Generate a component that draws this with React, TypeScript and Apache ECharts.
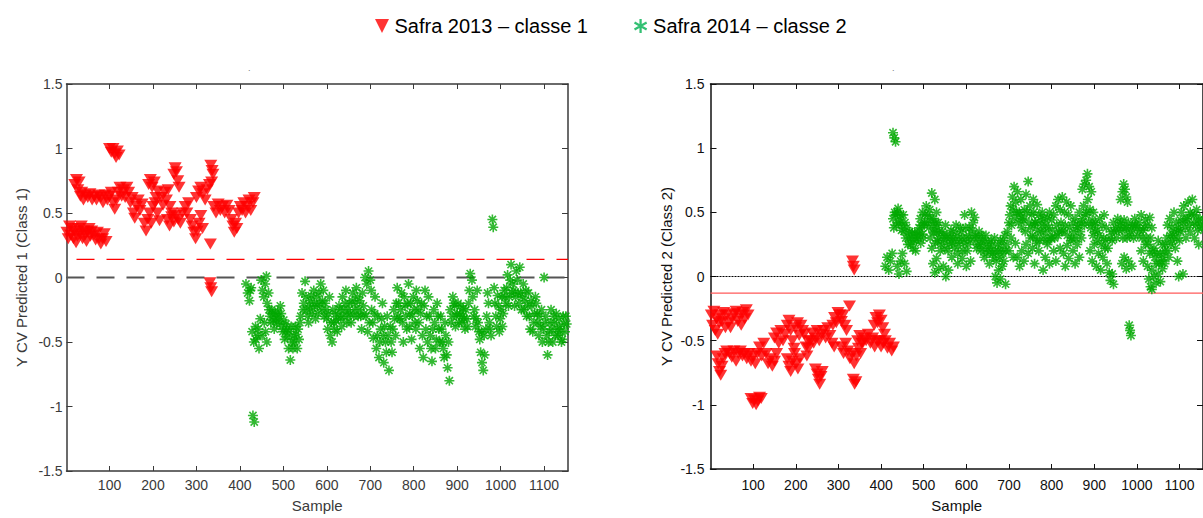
import React, { useEffect, useRef } from "react";
import * as echarts from "echarts";

// ---------- data ----------
const legendNames = ["Safra 2013 – classe 1", "Safra 2014 – classe 2"];
const xTicks = [100, 200, 300, 400, 500, 600, 700, 800, 900, 1000, 1100];
const leftYName = "Y CV Predicted 1 (Class 1)";
const rightYName = "Y CV Predicted 2 (Class 2)";
const xName = "Sample";
const leftXMin = 1;
const rightXMin = 0;
const xMax = 1155;
const leftThreshold = 0.14;
const rightThreshold = -0.13;

// left panel, class 1 (2013)
const leftClass1: number[][] = [
  [2,0.35],[5,0.3],[8,0.4],[11,0.33],[14,0.38],[17,0.3],[20,0.36],[23,0.27],[26,0.32],[29,0.38],[32,0.34],[35,0.4],[38,0.3],[41,0.36],[44,0.33],[47,0.28],[50,0.35],[53,0.38],[56,0.32],[59,0.36],[64,0.33],[68,0.29],[72,0.35],[76,0.3],[80,0.26],[84,0.3],[88,0.34],[92,0.28],
  [20,0.72],[24,0.76],[27,0.68],[30,0.74],[33,0.63],[36,0.66],[40,0.6],[44,0.64],
  [50,0.62],[55,0.65],[60,0.6],[65,0.63],[70,0.6],[75,0.64],[80,0.62],[85,0.58],[90,0.64],[95,0.6],[100,0.63],[104,0.66],
  [100,1.0],[104,0.97],[108,1.0],[112,0.96],[115,0.93],[118,0.98],[122,0.95],
  [108,0.58],[112,0.53],[116,0.6],[120,0.66],[124,0.7],[128,0.63],[132,0.68],[136,0.62],[140,0.7],[144,0.66],[148,0.58],[152,0.62],
  [155,0.5],[158,0.46],[162,0.55],[166,0.6],[170,0.52],[175,0.57],
  [180,0.42],[184,0.36],[188,0.45],[192,0.5],[196,0.42],[200,0.55],
  [190,0.72],[194,0.76],[198,0.7],[203,0.74],[207,0.62],[211,0.67],
  [205,0.58],[210,0.5],[215,0.44],[219,0.62],[223,0.56],[227,0.66],[231,0.6],[235,0.68],[239,0.55],[243,0.5],
  [233,0.45],[238,0.4],[243,0.47],[248,0.43],[253,0.48],[258,0.45],[263,0.42],[268,0.5],
  [248,0.8],[251,0.85],[254,0.82],[257,0.75],[260,0.7],
  [274,0.55],[278,0.5],[282,0.58],[286,0.45],[290,0.4],[294,0.35],[298,0.3],[302,0.36],[306,0.42],[310,0.48],[314,0.38],
  [300,0.62],[305,0.67],[310,0.7],[315,0.65],[320,0.6],[325,0.68],[330,0.72],[335,0.74],
  [333,0.87],[336,0.83],[338,0.8],
  [332,0.26],[331,-0.04],[333,-0.08],[335,-0.11],
  [340,0.55],[345,0.5],[350,0.57],[355,0.52],[360,0.55],[365,0.5],[370,0.56],[375,0.52],[380,0.45],[384,0.4],[387,0.35],[390,0.42],[393,0.38],[397,0.5],[401,0.55],[405,0.52],[409,0.58],[413,0.5],[417,0.55],[421,0.6],[425,0.52],[430,0.58],[433,0.62],
];

// left panel, class 2 (2014)
const leftClass2: number[][] = [
  [414,-0.05],[418,-0.12],[422,-0.18],[426,-0.08],[430,-1.07],[433,-1.12],[428,-0.42],[432,-0.5],[436,-0.38],[440,-0.45],[444,-0.55],[447,-0.32],
  [449,-0.02],[452,-0.1],[455,-0.15],[458,-0.05],[461,0.01],[463,-0.2],[466,-0.12],[459,-0.42],[462,-0.5],
  [469,-0.3],[473,-0.25],[477,-0.33],[481,-0.28],[485,-0.36],[489,-0.3],[493,-0.22],[497,-0.38],[501,-0.33],[505,-0.42],
  [503,-0.48],[508,-0.4],[512,-0.55],[516,-0.64],[520,-0.5],[524,-0.45],[528,-0.38],[532,-0.55],[536,-0.48],
  [540,-0.3],[543,-0.12],[547,-0.2],[550,-0.03],[554,-0.25],[558,-0.35],[562,-0.18],[566,-0.28],[570,-0.1],[574,-0.32],
  [578,-0.22],[582,-0.12],[586,-0.05],[590,-0.18],[594,-0.3],[598,-0.25],[602,-0.4],[606,-0.15],
  [608,-0.45],[612,-0.5],[616,-0.35],[620,-0.28],[624,-0.42],[628,-0.22],[632,-0.32],[636,-0.15],[640,-0.25],[644,-0.1],[648,-0.3],
  [652,-0.2],[656,-0.35],[660,-0.12],[664,-0.25],[668,-0.08],[672,-0.3],[676,-0.18],[680,-0.4],[684,-0.22],
  [688,0.0],[692,-0.05],[696,0.05],[700,-0.02],[690,-0.3],[694,-0.42],[698,-0.35],[703,-0.25],[707,-0.47],[711,-0.15],
  [714,-0.55],[717,-0.3],[720,-0.62],[724,-0.4],[728,-0.2],[731,-0.66],[735,-0.5],[739,-0.3],[743,-0.72],[746,-0.38],[750,-0.58],[754,-0.25],[758,-0.45],
  [762,-0.08],[765,-0.2],[768,-0.32],[772,-0.12],[776,-0.5],[780,-0.22],[784,-0.4],[788,-0.05],[791,-0.28],[795,-0.48],[799,-0.15],[803,-0.35],[806,-0.1],[810,-0.25],[814,-0.55],[818,-0.2],[822,-0.62],[826,-0.1],[830,-0.3],[834,-0.15],
  [838,-0.45],[842,-0.65],[846,-0.25],[850,-0.55],[854,-0.2],[858,-0.4],[862,-0.3],[866,-0.5],[870,-0.62],[874,-0.45],[878,-0.7],[882,-0.8],[886,-0.35],[890,-0.15],[894,-0.22],[898,-0.3],
  [902,-0.2],[906,-0.28],[910,-0.35],[914,-0.24],[918,-0.4],[922,-0.32],[926,-0.2],[930,0.03],[934,-0.02],[938,-0.3],[942,-0.38],[946,-0.1],[950,-0.42],
  [954,-0.58],[957,-0.66],[960,-0.72],[963,-0.6],[966,-0.4],[970,-0.12],[974,-0.35],[978,-0.45],[981,0.45],[983,0.39],[985,-0.08],[989,-0.3],[993,-0.14],[997,-0.42],[1001,-0.25],[1004,-0.38],
  [1008,-0.1],[1012,-0.2],[1016,0.02],[1020,-0.15],[1024,0.1],[1028,-0.05],[1032,-0.22],[1036,0.05],[1040,-0.12],[1044,0.08],[1048,-0.25],[1052,-0.05],[1056,-0.18],
  [1060,-0.3],[1064,-0.12],[1068,-0.4],[1072,-0.22],[1076,-0.35],[1080,-0.15],[1084,-0.28],[1088,-0.45],[1092,-0.38],[1096,-0.5],[1100,0.0],
  [1104,-0.3],[1108,-0.6],[1112,-0.42],[1116,-0.25],[1120,-0.5],[1124,-0.35],[1128,-0.28],[1132,-0.45],[1136,-0.38],[1140,-0.5],[1144,-0.3],[1148,-0.42],[1152,-0.36],
  [424,-0.1],[437,-0.48],[442,-0.4],[451,-0.45],[456,-0.35],[467,-0.25],[471,-0.35],[475,-0.28],[479,-0.4],[483,-0.32],[487,-0.26],[491,-0.34],[495,-0.28],[499,-0.42],[506,-0.36],[510,-0.46],[514,-0.42],[518,-0.38],[522,-0.55],[526,-0.5],[530,-0.44],[534,-0.4],[538,-0.35],[545,-0.25],[552,-0.15],[556,-0.3],[560,-0.22],[564,-0.14],[568,-0.24],[572,-0.2],[576,-0.15],[580,-0.28],[584,-0.2],[588,-0.25],[592,-0.1],[596,-0.2],[600,-0.32],[604,-0.28],[610,-0.35],[614,-0.25],[618,-0.4],[622,-0.33],[626,-0.3],[630,-0.25],[634,-0.38],[638,-0.3],[642,-0.2],[646,-0.35],[650,-0.25],[654,-0.28],[658,-0.18],[662,-0.3],[666,-0.2],[670,-0.15],[674,-0.25],[678,-0.3],[682,-0.12],[686,-0.28],
  [702,-0.1],[706,-0.35],[710,-0.28],[716,-0.45],[722,-0.5],[726,-0.32],[730,-0.45],[733,-0.38],[737,-0.58],[741,-0.45],[748,-0.5],[752,-0.4],[756,-0.32],[760,-0.2],[764,-0.3],[770,-0.25],[774,-0.35],[778,-0.15],[782,-0.3],[786,-0.2],[790,-0.38],[793,-0.2],[797,-0.3],[801,-0.25],[805,-0.4],[808,-0.18],[812,-0.35],[816,-0.28],[820,-0.45],[824,-0.22],[828,-0.4],[832,-0.5],[836,-0.3],[840,-0.55],[844,-0.4],[848,-0.35],[852,-0.48],[856,-0.3],[860,-0.5],[864,-0.4],[868,-0.55],[872,-0.35],[876,-0.6],[880,-0.5],[884,-0.25],[888,-0.3],[892,-0.2],[896,-0.38],
  [900,-0.28],[904,-0.35],[908,-0.22],[912,-0.3],[916,-0.32],[920,-0.25],[924,-0.38],[928,-0.1],[936,-0.15],[940,-0.25],[944,-0.32],[948,-0.35],[952,-0.48],[956,-0.42],[962,-0.45],[968,-0.3],[972,-0.2],[976,-0.4],[987,-0.2],[991,-0.38],[995,-0.22],[999,-0.32],[1003,-0.15],[1006,-0.28],[1010,-0.15],[1014,-0.08],[1018,-0.22],[1022,-0.02],[1026,-0.12],[1030,-0.1],[1034,-0.15],[1038,-0.02],[1042,-0.2],[1046,-0.12],[1050,-0.15],[1054,-0.25],[1058,-0.1],[1062,-0.22],[1066,-0.3],[1070,-0.18],[1074,-0.42],[1078,-0.28],[1082,-0.2],[1086,-0.35],[1090,-0.3],[1094,-0.25],[1098,-0.4],[1102,-0.35],[1106,-0.45],[1110,-0.5],[1114,-0.35],[1118,-0.4],[1122,-0.3],[1126,-0.45],[1130,-0.4],[1134,-0.32],[1138,-0.42],[1142,-0.48],[1146,-0.36],[1150,-0.3],
];

// right panel, class 1 (2013)
const rightClass1: number[][] = [
  [2,-0.3],[5,-0.38],[8,-0.27],[11,-0.42],[14,-0.33],[17,-0.45],[20,-0.36],[23,-0.3],
  [27,-0.35],[31,-0.28],[35,-0.4],[39,-0.3],[43,-0.36],[47,-0.4],[51,-0.33],[55,-0.29],
  [60,-0.27],[64,-0.35],[68,-0.3],[72,-0.38],[76,-0.28],[80,-0.33],[84,-0.26],[88,-0.3],
  [15,-0.62],[18,-0.68],[21,-0.74],[24,-0.77],[27,-0.7],[30,-0.64],[34,-0.6],[38,-0.58],
  [45,-0.6],[50,-0.63],[55,-0.58],[60,-0.66],[65,-0.6],[70,-0.58],[75,-0.62],[80,-0.6],[85,-0.64],[90,-0.6],[95,-0.66],
  [95,-0.95],[99,-0.99],[103,-0.96],[107,-1.0],[111,-0.97],[115,-0.94],[119,-0.95],
  [100,-0.62],[105,-0.68],[110,-0.6],[115,-0.55],[120,-0.62],[125,-0.52],[130,-0.6],[135,-0.68],[140,-0.64],[145,-0.7],[150,-0.66],[155,-0.6],
  [150,-0.48],[155,-0.44],[160,-0.52],[165,-0.42],[170,-0.5],[175,-0.45],[180,-0.38],[184,-0.34],[188,-0.42],[192,-0.5],[196,-0.56],
  [180,-0.64],[184,-0.7],[188,-0.74],[192,-0.66],[197,-0.6],[201,-0.68],[205,-0.72],[210,-0.64],
  [200,-0.4],[204,-0.36],[208,-0.46],[212,-0.38],[216,-0.42],[220,-0.45],[224,-0.55],[228,-0.5],
  [226,-0.62],[230,-0.56],[234,-0.5],[238,-0.44],[242,-0.52],[246,-0.48],[250,-0.42],
  [246,-0.72],[250,-0.76],[253,-0.8],[256,-0.84],[259,-0.78],[262,-0.74],
  [255,-0.5],[260,-0.45],[265,-0.42],[270,-0.48],[275,-0.4],[280,-0.46],[285,-0.52],[290,-0.55],
  [287,-0.38],[291,-0.32],[295,-0.36],[299,-0.28],[303,-0.3],[307,-0.35],[311,-0.3],[315,-0.38],[319,-0.42],
  [307,-0.55],[312,-0.6],[317,-0.52],[322,-0.58],[327,-0.64],[332,-0.6],[337,-0.68],[342,-0.62],[347,-0.56],[352,-0.6],[357,-0.52],
  [326,-0.23],[333,0.12],[335,0.08],[337,0.05],
  [335,-0.8],[338,-0.84],[341,-0.82],
  [345,-0.5],[350,-0.46],[355,-0.52],[360,-0.48],[365,-0.5],[370,-0.45],[375,-0.52],[380,-0.48],[385,-0.55],[390,-0.5],
  [384,-0.38],[388,-0.32],[392,-0.36],[396,-0.3],[400,-0.34],[404,-0.4],[408,-0.45],
  [395,-0.5],[400,-0.55],[405,-0.52],[410,-0.5],[415,-0.56],[420,-0.52],[425,-0.58],[429,-0.55],
];

// right panel, class 2 (2014)
const rightClass2: number[][] = [
  [410,0.08],[414,0.15],[418,0.05],[422,0.12],[426,0.18],
  [428,1.12],[431,1.08],[434,1.05],
  [428,0.45],[432,0.5],[436,0.4],[440,0.53],[444,0.44],[448,0.36],[452,0.48],[456,0.42],[460,0.38],
  [438,0.08],[442,0.02],[446,0.12],[450,0.18],[455,0.1],[460,0.04],
  [465,0.3],[469,0.25],[473,0.34],[477,0.28],[481,0.2],[485,0.32],[489,0.38],[493,0.26],[497,0.33],[501,0.4],
  [492,0.45],[497,0.5],[502,0.42],[506,0.55],[510,0.48],[514,0.52],[519,0.65],[522,0.45],[526,0.6],[530,0.5],[534,0.42],
  [515,0.3],[519,0.22],[523,0.34],[527,0.26],[531,0.38],[535,0.3],[539,0.2],[543,0.35],[547,0.28],[551,0.4],[555,0.32],[560,0.25],[564,0.36],
  [522,0.1],[526,0.03],[530,0.14],[535,0.06],[546,0.08],[552,0.0],[558,0.05],[566,0.15],
  [568,0.3],[572,0.22],[576,0.4],[580,0.18],[584,0.28],[588,0.35],[592,0.2],[596,0.48],[600,0.3],[604,0.25],[608,0.38],[612,0.5],[616,0.42],[619,0.46],
  [580,0.1],[590,0.14],[600,0.08],[610,0.12],
  [622,0.32],[626,0.25],[630,0.35],[634,0.2],[638,0.28],[642,0.15],[646,0.32],[650,0.22],[654,0.1],[658,0.28],[662,0.18],[666,0.3],[670,0.12],
  [668,0.0],[672,-0.05],[676,0.05],[680,-0.02],[684,0.08],[688,0.12],[692,-0.06],
  [675,0.2],[680,0.28],[685,0.18],[690,0.32],[695,0.25],[700,0.2],[705,0.3],[710,0.15],[715,0.26],
  [700,0.42],[704,0.55],[708,0.62],[712,0.7],[716,0.58],[720,0.66],[724,0.5],[728,0.6],[732,0.45],[736,0.52],[740,0.64],[745,0.74],[749,0.55],[753,0.48],[757,0.6],[761,0.42],
  [720,0.15],[725,0.08],[730,0.2],[735,0.12],[740,0.25],[745,0.18],[750,0.3],[755,0.22],[760,0.1],[765,0.26],[770,0.2],[775,0.35],
  [758,0.5],[762,0.42],[766,0.56],[770,0.48],[774,0.44],[778,0.5],[782,0.45],[786,0.4],[790,0.46],[795,0.5],[800,0.44],[805,0.48],
  [780,0.05],[785,0.15],[790,0.25],[795,0.1],[800,0.3],[805,0.2],[810,0.12],[815,0.32],[820,0.22],[824,0.35],
  [810,0.55],[815,0.6],[820,0.52],[825,0.62],[830,0.5],[835,0.58],[840,0.48],[845,0.55],[850,0.42],
  [828,0.18],[832,0.08],[836,0.24],[840,0.14],[845,0.28],[850,0.2],[855,0.1],[860,0.25],[865,0.15],[870,0.3],
  [855,0.45],[860,0.38],[865,0.5],[870,0.42],[875,0.55],[880,0.48],[885,0.6],[890,0.52],[895,0.44],[900,0.4],
  [872,0.68],[877,0.72],[881,0.75],[884,0.8],[888,0.7],[893,0.66],
  [898,0.5],[903,0.42],[908,0.36],[913,0.45],[918,0.4],[923,0.48],[928,0.38],
  [890,0.2],[895,0.12],[900,0.25],[905,0.08],[910,0.18],[915,0.05],[920,0.15],[925,0.22],[930,0.1],[935,0.03],
  [938,-0.03],[942,0.02],[945,-0.06],
  [940,0.35],[945,0.42],[950,0.38],[955,0.45],[960,0.4],[965,0.36],[970,0.44],[975,0.38],[980,0.42],[985,0.35],[990,0.4],
  [962,0.6],[966,0.66],[969,0.72],[972,0.68],[975,0.62],[978,0.58],
  [965,0.1],[970,0.15],[975,0.06],[980,0.12],[988,0.08],
  [982,-0.38],[984,-0.42],[986,-0.46],
  [995,0.45],[1000,0.38],[1005,0.42],[1010,0.48],[1015,0.36],[1020,0.44],[1025,0.4],[1030,0.46],[1035,0.38],
  [1010,0.2],[1015,0.12],[1020,0.25],[1025,0.08],[1030,0.18],[1035,0.05],[1040,0.22],[1045,0.1],[1050,0.28],
  [1028,-0.02],[1032,-0.08],[1035,-0.1],[1040,0.0],[1045,-0.05],[1050,0.02],[1055,-0.04],[1060,0.06],[1065,0.1],
  [1055,0.18],[1060,0.25],[1065,0.2],[1070,0.3],[1075,0.15],[1080,0.25],[1085,0.32],[1090,0.22],[1095,0.12],[1100,0.28],
  [1072,0.4],[1077,0.45],[1082,0.38],[1087,0.5],[1092,0.42],[1097,0.36],[1102,0.44],
  [1105,0.5],[1110,0.55],[1115,0.45],[1120,0.58],[1125,0.5],[1130,0.6],[1135,0.48],[1140,0.52],[1145,0.44],[1150,0.4],
  [1098,0.0],[1108,0.02],[1115,0.3],[1125,0.35],[1135,0.3],[1145,0.25],
  [430,0.38],[434,0.48],[438,0.5],[442,0.42],[446,0.48],[450,0.4],[454,0.35],[458,0.3],[463,0.25],[467,0.35],[471,0.3],[475,0.22],[479,0.34],[483,0.28],[487,0.3],[491,0.35],[495,0.4],[499,0.3],[503,0.48],[508,0.42],[512,0.38],[517,0.45],[521,0.4],[525,0.35],[529,0.42],[533,0.28],[537,0.35],[541,0.25],[545,0.32],[549,0.22],[553,0.3],[557,0.2],[562,0.3],[566,0.26],[570,0.35],[574,0.28],[578,0.32],[582,0.24],[586,0.38],[590,0.3],[594,0.26],[598,0.38],[602,0.2],[606,0.32],[610,0.28],[614,0.36],[618,0.3],
  [624,0.22],[628,0.3],[632,0.25],[636,0.32],[640,0.22],[644,0.28],[648,0.18],[652,0.26],[656,0.2],[660,0.24],[664,0.15],[668,0.2],[674,0.25],[678,0.15],[682,0.22],[686,0.28],[692,0.2],[696,0.35],[702,0.48],[706,0.4],[710,0.52],[714,0.45],[718,0.5],[722,0.42],[726,0.48],[730,0.38],[734,0.44],[738,0.35],[742,0.5],[747,0.42],[751,0.38],[755,0.32],[759,0.4],[763,0.3],[767,0.36],[772,0.28],[777,0.4],[781,0.3],[785,0.35],[789,0.28],[793,0.38],[797,0.3],[802,0.36],[807,0.3],[812,0.4],[817,0.35],[822,0.42],[827,0.36],[832,0.4],[837,0.32],[842,0.38],[847,0.3],[852,0.35],[857,0.3],[862,0.4],[867,0.35],[872,0.45],[877,0.4],[882,0.5],[887,0.42],[892,0.38],[897,0.32],
  [902,0.35],[907,0.28],[912,0.32],[917,0.25],[922,0.3],[927,0.28],[932,0.22],[937,0.3],[942,0.28],[947,0.35],[952,0.3],[957,0.36],[962,0.42],[967,0.3],[972,0.38],[977,0.3],[983,0.32],[988,0.38],[992,0.3],[997,0.4],[1002,0.32],[1007,0.36],[1012,0.3],[1017,0.38],[1022,0.3],[1027,0.25],[1032,0.3],[1037,0.2],[1042,0.15],[1047,0.18],[1052,0.1],[1057,0.12],[1062,0.15],[1067,0.25],[1072,0.2],[1078,0.32],[1083,0.28],[1088,0.35],[1093,0.3],[1098,0.38],[1103,0.35],[1108,0.42],[1113,0.38],[1118,0.45],[1123,0.4],[1128,0.48],[1133,0.42],[1138,0.4],[1143,0.36],[1148,0.45],[1152,0.38],
];

// ---------- styling ----------
const FONT = "'Liberation Sans', Arial, sans-serif";
const RED = "#ff0000";
const GREEN = "#00a800";
const triSymbol = "path://M0,0 L12,0 L6,10 Z";
const starSymbol = "path://M0,-5 L0,5 M-5,0 L5,0 M-3.6,-3.6 L3.6,3.6 M-3.6,3.6 L3.6,-3.6";
const legendTri = "path://M0,0 L14,0 L7,14 Z";
const legendStar =
  "path://M-1.3,-8 L1.3,-8 L1.3,8 L-1.3,8 Z M-7.578,-2.874 L-6.278,-5.126 L7.578,2.874 L6.278,5.126 Z M-6.278,5.126 L-7.578,2.874 L6.278,-5.126 L7.578,-2.874 Z";
const plainNumber = (v: number) => String(v);

function xAxes(gridIndex: number, min: number, color: string, labelMargin: number, nameGap: number) {
  return [
    {
      type: "value", gridIndex, min, max: xMax, position: "bottom",
      name: xName, nameLocation: "middle", nameGap,
      nameTextStyle: { fontSize: 15, color, fontFamily: FONT },
      axisLine: { show: true, onZero: false, lineStyle: { color, width: 1.5 } },
      axisTick: { show: true, inside: true, length: 5, customValues: xTicks, lineStyle: { color } },
      axisLabel: { customValues: xTicks, formatter: plainNumber, margin: labelMargin, fontSize: 14, color, fontFamily: FONT },
      splitLine: { show: false },
    },
    {
      type: "value", gridIndex, min, max: xMax, position: "top",
      axisLine: { show: true, onZero: false, lineStyle: { color, width: 1.5 } },
      axisTick: { show: true, inside: true, length: 5, customValues: xTicks, lineStyle: { color } },
      axisLabel: { show: false },
      splitLine: { show: false },
    },
  ];
}

function yAxes(gridIndex: number, name: string, color: string, labelMargin: number, nameGap: number) {
  return [
    {
      type: "value", gridIndex, min: -1.5, max: 1.5, interval: 0.5, position: "left",
      name, nameLocation: "middle", nameGap,
      nameTextStyle: { fontSize: 15, color, fontFamily: FONT },
      axisLine: { show: true, onZero: false, lineStyle: { color, width: 1.5 } },
      axisTick: { show: true, inside: true, length: 6, lineStyle: { color } },
      axisLabel: { margin: labelMargin, fontSize: 14, color, fontFamily: FONT, formatter: plainNumber },
      splitLine: { show: false },
    },
    {
      type: "value", gridIndex, min: -1.5, max: 1.5, interval: 0.5, position: "right",
      axisLine: { show: true, onZero: false, lineStyle: { color, width: 1.5 } },
      axisTick: { show: true, inside: true, length: 6, lineStyle: { color } },
      axisLabel: { show: false },
      splitLine: { show: false },
    },
  ];
}

function refLine(axisIndex: number, x0: number, value: number, lineStyle: any) {
  return {
    type: "line", xAxisIndex: axisIndex, yAxisIndex: axisIndex, silent: true,
    showSymbol: false, symbol: "none", z: 1,
    data: [[x0, value], [xMax, value]],
    lineStyle,
  };
}

const option: any = {
  animation: false,
  backgroundColor: "#ffffff",
  title: [
    { text: ".", left: 243, top: 58, textStyle: { fontSize: 9, color: "#777", fontWeight: "normal" } },
    { text: ".", left: 887, top: 58, textStyle: { fontSize: 9, color: "#777", fontWeight: "normal" } },
  ],
  legend: {
    left: 370, top: 11, itemWidth: 15, itemHeight: 14, itemGap: 46, selectedMode: false,
    textStyle: { fontSize: 20, color: "#000", fontFamily: FONT },
    data: [
      { name: legendNames[0], icon: legendTri, itemStyle: { color: RED, borderWidth: 0 } },
      { name: legendNames[1], icon: legendStar, itemStyle: { color: "#00b050", borderWidth: 0 } },
    ],
  },
  grid: [
    { left: 66.5, top: 84, width: 501.5, height: 396.5 },
    { left: 710.5, top: 84, width: 499, height: 392.5 },
  ],
  xAxis: [...xAxes(0, leftXMin, "#3a3a3a", 7, 27), ...xAxes(1, rightXMin, "#111111", 9, 29)],
  yAxis: [...yAxes(0, leftYName, "#3a3a3a", 4, 38), ...yAxes(1, rightYName, "#111111", 6, 37)],
  series: [
    refLine(0, leftXMin, 0, { color: "#555555", width: 1.8, type: [18, 12] }),
    refLine(0, leftXMin, leftThreshold, { color: "#ff0000", width: 1.2, type: [18, 12], dashOffset: 20 }),
    refLine(2, rightXMin, 0, { color: "#000000", width: 1, type: [2, 1] }),
    refLine(2, rightXMin, rightThreshold, { color: "#ff5a5a", width: 1.3, type: "solid" }),
    {
      type: "scatter", name: legendNames[0], xAxisIndex: 0, yAxisIndex: 0, data: leftClass1, clip: false,
      symbol: triSymbol, symbolSize: [13, 11], itemStyle: { color: RED },
    },
    {
      type: "scatter", name: legendNames[1], xAxisIndex: 0, yAxisIndex: 0, data: leftClass2, clip: false,
      symbol: starSymbol, symbolSize: 10, itemStyle: { color: GREEN, borderColor: GREEN, borderWidth: 1.6 },
    },
    {
      type: "scatter", name: legendNames[0], xAxisIndex: 2, yAxisIndex: 2, data: rightClass1, clip: false,
      symbol: triSymbol, symbolSize: [13, 11], itemStyle: { color: RED },
    },
    {
      type: "scatter", name: legendNames[1], xAxisIndex: 2, yAxisIndex: 2, data: rightClass2, clip: false,
      symbol: starSymbol, symbolSize: 10, itemStyle: { color: GREEN, borderColor: GREEN, borderWidth: 1.6 },
    },
  ],
};

export default function App() {
  const ref = useRef<HTMLDivElement>(null);
  useEffect(() => {
    if (!ref.current) return;
    const chart = echarts.init(ref.current, null, { renderer: "svg" });
    chart.setOption(option);
    return () => chart.dispose();
  }, []);
  return (
    <div
      ref={ref}
      style={{ position: "fixed", left: 0, top: 0, width: 1203, height: 518, background: "#fff" }}
    />
  );
}
